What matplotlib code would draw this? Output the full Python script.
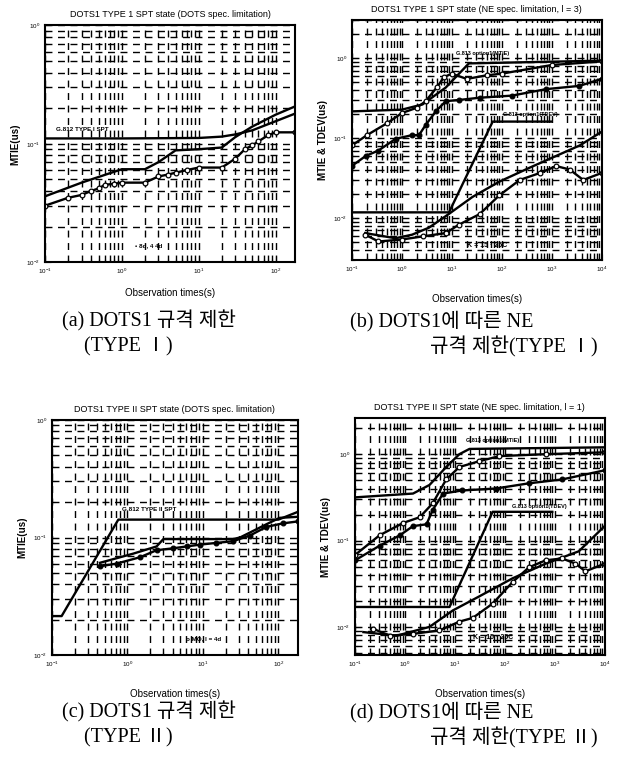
"""
DOTS1 SPT state MTIE / TDEV versus observation time, four panels (scanned-style log-log).
"""
import matplotlib
matplotlib.use("Agg")
import matplotlib.pyplot as plt
from matplotlib.ticker import LogLocator, NullFormatter

plt.rcParams.update({
    "font.family": ["Liberation Sans", "DejaVu Sans"],
    "font.size": 6,
})

# ---------------- (a) TYPE I, DOTS spec ----------------
a_spec_x = [0.1, 1, 10, 20, 30, 50, 100, 180]
a_spec_y = [0.111, 0.111, 0.112, 0.115, 0.12, 0.13, 0.155, 0.18]
a_up_x = [0.1, 0.3, 1, 2, 3, 5, 10, 20, 30, 50, 100, 180]
a_up_y = [0.036, 0.047, 0.061, 0.061, 0.07, 0.088, 0.09, 0.093, 0.114, 0.14, 0.176, 0.207]
a_lo_x = [0.1, 0.2, 0.3, 0.4, 0.5, 0.6, 0.8, 1, 2, 3, 4, 5, 7, 10, 20, 30, 40, 50, 60, 80, 100, 180]
a_lo_y = [0.030, 0.035, 0.037, 0.040, 0.042, 0.045, 0.046, 0.047, 0.047, 0.053, 0.055, 0.057,
          0.060, 0.063, 0.063, 0.075, 0.09, 0.097, 0.105, 0.118, 0.125, 0.125]

# ---------------- (b) TYPE I, NE spec, l = 3 ----------------
b_mspec_x = [0.1, 1, 2.6, 7.6, 14, 22, 10000]
b_mspec_y = [0.216, 0.227, 0.264, 0.43, 0.64, 0.86, 0.93]
b_mup_x = [0.1, 0.2, 0.5, 1, 2, 3, 5, 7, 10, 20, 50, 100, 1000, 10000]
b_mup_y = [0.081, 0.109, 0.153, 0.206, 0.24, 0.29, 0.43, 0.58, 0.64, 0.55, 0.61, 0.64, 0.82, 0.91]
b_mlo_x = [0.1, 0.19, 0.34, 0.75, 1.6, 2.2, 3, 4.8, 7.6, 14, 36, 160, 780, 3600, 10000]
b_mlo_y = [0.045, 0.06, 0.07, 0.098, 0.109, 0.109, 0.146, 0.217, 0.29, 0.30, 0.32, 0.34, 0.41, 0.45, 0.55]
b_tspec_x = [0.1, 8.8, 66, 1000]
b_tspec_y = [0.0118, 0.0118, 0.161, 0.161]
b_tup_x = [0.185, 0.74, 1.6, 3.5, 8.8, 26, 90, 360, 1240, 3660, 10000]
b_tup_y = [0.0065, 0.0056, 0.0062, 0.0076, 0.0113, 0.0184, 0.0286, 0.0426, 0.060, 0.081, 0.12]
b_tlo_x = [0.185, 0.34, 1.0, 2.6, 7.6, 14, 36, 90, 230, 580, 1240, 2300, 4300, 10000]
b_tlo_y = [0.0062, 0.0051, 0.0054, 0.0059, 0.0065, 0.0083, 0.0112, 0.0193, 0.030, 0.0366,
           0.0447, 0.0405, 0.030, 0.0366]

# ---------------- (c) TYPE II, DOTS spec ----------------
c_spec_x = [0.1, 0.135, 0.76, 100, 180]
c_spec_y = [0.0215, 0.0215, 0.142, 0.142, 0.165]
c_up_x = [0.435, 1.2, 2.44, 3.0, 10, 25, 31, 70, 104, 180]
c_up_y = [0.061, 0.073, 0.084, 0.097, 0.097, 0.097, 0.1, 0.13, 0.147, 0.15]
c_lo_x = [0.435, 0.72, 1.47, 2.44, 4.05, 6.1, 9.1, 15, 25, 42, 69, 115, 180]
c_lo_y = [0.057, 0.06, 0.068, 0.078, 0.081, 0.084, 0.087, 0.09, 0.093, 0.104, 0.123, 0.132, 0.137]

# ---------------- (d) TYPE II, NE spec, l = 1 ----------------
d_mspec_x = [0.1, 1.45, 3.1, 6.7, 12.3, 19.6, 10000]
d_mspec_y = [0.316, 0.35, 0.44, 0.71, 1.0, 1.15, 1.2]
d_mup_x = [0.1, 0.31, 0.92, 1.97, 3.6, 6.7, 12.3, 31, 78, 660, 10000]
d_mup_y = [0.068, 0.115, 0.16, 0.186, 0.27, 0.51, 0.71, 0.83, 0.95, 1.0, 1.05]
d_mlo_x = [0.1, 0.31, 0.79, 1.45, 2.7, 3.6, 5.8, 14, 66, 306, 1410, 10000]
d_mlo_y = [0.059, 0.087, 0.115, 0.147, 0.154, 0.226, 0.35, 0.38, 0.40, 0.46, 0.51, 0.65]
d_tspec_x = [0.1, 7.8, 57, 890]
d_tspec_y = [0.017, 0.017, 0.215, 0.215]
d_tup_x = [0.147, 0.68, 3.1, 9.1, 31, 143, 660, 3030, 10000]
d_tup_y = [0.0087, 0.0079, 0.01, 0.0155, 0.0226, 0.0365, 0.054, 0.075, 0.147]
d_tlo_x = [0.23, 0.5, 1.45, 4.9, 12.3, 22.8, 57, 143, 306, 660, 1410, 2600, 4120, 10000]
d_tlo_y = [0.0095, 0.0079, 0.0083, 0.0091, 0.0115, 0.0127, 0.0186, 0.033, 0.049, 0.059,
           0.062, 0.054, 0.044, 0.054]

CAPTION_FONT = ["Liberation Serif", "Noto Sans CJK KR", "DejaVu Sans"]
GRID_LS = (0, (5, 4))


def style_axis(ax, xlim, ylim, title, ylabel, labelpad):
    ax.set_xscale("log")
    ax.set_yscale("log")
    ax.set_xlim(*xlim)
    ax.set_ylim(*ylim)
    ax.xaxis.set_major_locator(LogLocator(base=10, numticks=12))
    ax.yaxis.set_major_locator(LogLocator(base=10, numticks=12))
    ax.xaxis.set_minor_locator(LogLocator(base=10, subs=range(2, 10), numticks=12))
    ax.yaxis.set_minor_locator(LogLocator(base=10, subs=range(2, 10), numticks=12))
    ax.xaxis.set_minor_formatter(NullFormatter())
    ax.yaxis.set_minor_formatter(NullFormatter())
    ax.grid(True, which="both", color="black", lw=1.0, ls=GRID_LS)
    ax.tick_params(which="both", direction="in", labelsize=4.5, width=0.8)
    ax.tick_params(which="major", length=4)
    ax.tick_params(which="minor", length=2)
    for sp in ax.spines.values():
        sp.set_linewidth(1.5)
    ax.set_title(title, fontsize=6.5, pad=6)
    ax.set_ylabel(ylabel, fontsize=7, fontweight="bold")
    ax.set_xlabel("Observation times(s)", fontsize=7, labelpad=labelpad)


def curve(ax, x, y, marker=None, mfc="black"):
    ax.plot(x, y, color="black", lw=1.7, marker=marker, ms=3.4, mfc=mfc, mec="black", mew=0.9)


fig = plt.figure(figsize=(6.24, 7.69), dpi=100)

# (a)
ax = fig.add_axes([0.072, 0.659, 0.401, 0.308])
curve(ax, a_spec_x, a_spec_y)
curve(ax, a_up_x, a_up_y)
curve(ax, a_lo_x, a_lo_y, marker="o", mfc="white")
ax.text(0.14, 0.128, "G.812 TYPE I SPT", fontsize=4.5, fontweight="bold")
ax.text(1.5, 0.0139, "• 8d, 4 4d", fontsize=4.5, fontweight="bold", va="center")
style_axis(ax, (0.1, 180), (0.01, 1), "DOTS1 TYPE 1 SPT state (DOTS spec. limitation)", "MTIE(us)", 8)

# (b)
ax = fig.add_axes([0.564, 0.662, 0.400, 0.312])
curve(ax, b_mspec_x, b_mspec_y)
curve(ax, b_mup_x, b_mup_y, marker="o", mfc="white")
curve(ax, b_mlo_x, b_mlo_y, marker="o")
curve(ax, b_tspec_x, b_tspec_y)
curve(ax, b_tup_x, b_tup_y)
curve(ax, b_tlo_x, b_tlo_y, marker="o", mfc="white")
ax.text(12, 1.08, "G.813 option1(MTIE)", fontsize=4, fontweight="bold")
ax.text(105, 0.19, "G.813 option1(TDEV)", fontsize=4, fontweight="bold")
ax.text(20, 0.0045, "K = 15 · 25C", fontsize=5, fontweight="bold", va="center")
style_axis(ax, (0.1, 10000), (0.003, 3), "DOTS1 TYPE 1 SPT state (NE spec. limitation, l = 3)",
           "MTIE & TDEV(us)", 14)

# (c)
ax = fig.add_axes([0.083, 0.148, 0.394, 0.306])
curve(ax, c_spec_x, c_spec_y)
curve(ax, c_up_x, c_up_y)
curve(ax, c_lo_x, c_lo_y, marker="o")
ax.text(0.85, 0.168, "G.812 TYPE II SPT", fontsize=4.5, fontweight="bold")
ax.text(6, 0.0137, "o MO, l = 4d", fontsize=4.5, fontweight="bold", va="center")
style_axis(ax, (0.1, 180), (0.01, 1), "DOTS1 TYPE II SPT state (DOTS spec. limitation)", "MTIE(us)", 14)

# (d)
ax = fig.add_axes([0.569, 0.148, 0.400, 0.308])
curve(ax, d_mspec_x, d_mspec_y)
curve(ax, d_mup_x, d_mup_y, marker="o", mfc="white")
curve(ax, d_mlo_x, d_mlo_y, marker="o")
curve(ax, d_tspec_x, d_tspec_y)
curve(ax, d_tup_x, d_tup_y)
curve(ax, d_tlo_x, d_tlo_y, marker="o", mfc="white")
ax.text(17, 1.4, "G.813 option1(MTIE)", fontsize=4, fontweight="bold")
ax.text(140, 0.24, "G.813 option1(TDEV)", fontsize=4, fontweight="bold")
ax.text(23, 0.0075, "K = 15 · 25C", fontsize=5, fontweight="bold", va="center")
style_axis(ax, (0.1, 10000), (0.0047, 2.6), "DOTS1 TYPE II SPT state (NE spec. limitation, l = 1)",
           "MTIE & TDEV(us)", 14)

# captions
captions = [
    (62, 321, "(a) DOTS1 규격 제한"),
    (84, 347, "(TYPE Ⅰ)"),
    (350, 321, "(b) DOTS1에 따른 NE"),
    (430, 347, "규격 제한(TYPE Ⅰ)"),
    (62, 712, "(c) DOTS1 규격 제한"),
    (84, 738, "(TYPE Ⅱ)"),
    (350, 712, "(d) DOTS1에 따른 NE"),
    (430, 738, "규격 제한(TYPE Ⅱ)"),
]
for px, py, txt in captions:
    fig.text(px / 624, 1 - py / 769, txt, fontsize=14.5, family=CAPTION_FONT, va="center", ha="left")

fig.savefig("out.png", dpi=100)
